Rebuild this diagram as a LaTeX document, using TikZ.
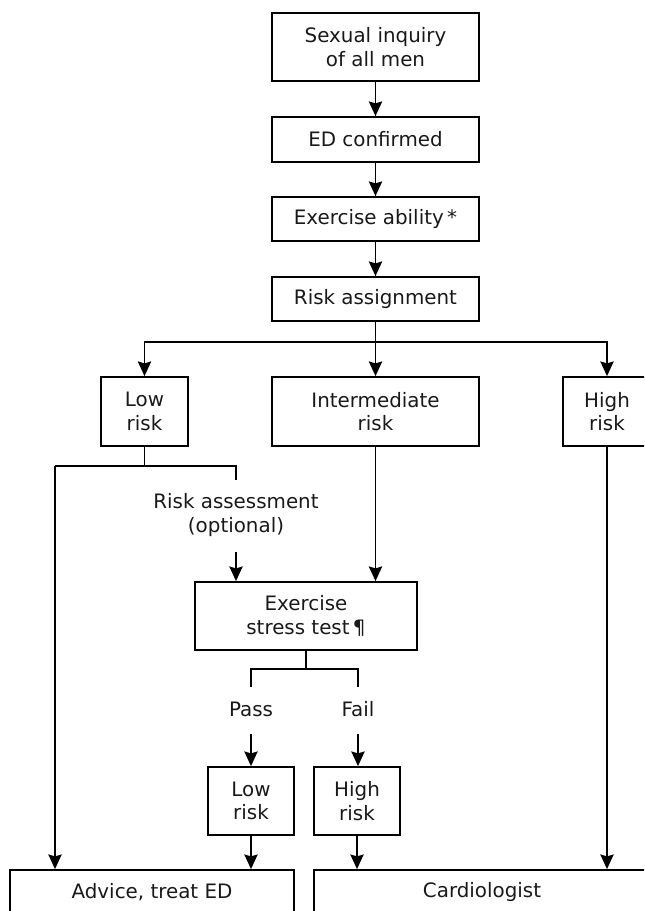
\documentclass[tikz,border=0pt]{standalone}
\usepackage{fontspec}
\setmainfont{DejaVu Sans}
\usetikzlibrary{arrows.meta,calc}
\begin{document}
\begin{tikzpicture}[x=0.75pt,y=-0.75pt,
  line width=1.35pt,
  every node/.style={font=\fontsize{14.9}{17.5}\selectfont, text=black!90},
  box/.style={draw, line width=1.35pt, align=center, inner sep=0pt},
  lbl/.style={align=center, inner sep=0pt},
  arr/.style={-{Stealth[length=11pt,width=10pt,inset=1.5pt]}}]
\useasboundingbox (0,0) rectangle (644,911);
\clip (0,0) rectangle (644,911);
% boxes
\node[box, minimum width={207*0.75pt}, minimum height={68*0.75pt}] (n1) at (375.5,47) {Sexual inquiry\\of all men};
\node[box, minimum width={207*0.75pt}, minimum height={45*0.75pt}] (n2) at (375.5,139.5) {ED confirmed};
\node[box, minimum width={207*0.75pt}, minimum height={44*0.75pt}] (n3) at (375.5,219) {Exercise ability\,*};
\node[box, minimum width={207*0.75pt}, minimum height={44*0.75pt}] (n4) at (375.5,299) {Risk assignment};
\node[box, minimum width={87*0.75pt}, minimum height={69*0.75pt}] (low) at (144.5,411.5) {Low\\risk};
\node[box, minimum width={207*0.75pt}, minimum height={69*0.75pt}] (inter) at (375.5,411.5) {Intermediate\\risk};
\node[box, minimum width={88*0.75pt}, minimum height={69*0.75pt}] (high) at (607,411.5) {High\\risk};
\node[box, minimum width={222*0.75pt}, minimum height={68*0.75pt}] (stress) at (306,616) {Exercise\\stress test\,¶};
\node[box, minimum width={86*0.75pt}, minimum height={68*0.75pt}] (low2) at (251,801) {Low\\risk};
\node[box, minimum width={86*0.75pt}, minimum height={68*0.75pt}] (high2) at (357,801) {High\\risk};
\node[box, minimum width={284*0.75pt}, minimum height={44*0.75pt}] (advice) at (152,892) {Advice, treat ED};
\node[box, minimum width={336*0.75pt}, minimum height={44*0.75pt}] (cardio) at (482,892) {Cardiologist};
% labels
\node[lbl] (ra) at (236,515) {Risk assessment\\(optional)};
\node[lbl] (pass) at (251,709) {Pass};
\node[lbl] (fail) at (358,709) {Fail};
% coordinates
\coordinate (jM) at (375.5,342);
\coordinate (lA) at (55,466);
\coordinate (lB) at (236,466);
\coordinate (lBe) at (236,480);
\coordinate (raA) at (236,552);
\coordinate (sj) at (306,669);
\coordinate (pL) at (251,669);
\coordinate (pR) at (358,669);
\coordinate (pLe) at (251,687);
\coordinate (pRe) at (358,687);
\coordinate (pLa) at (251,734);
\coordinate (pRa) at (358,734);
% connectors
\draw[arr] (n1) -- (n2);
\draw[arr] (n2) -- (n3);
\draw[arr] (n3) -- (n4);
\draw[arr] (n4) -- (inter);
\draw[arr] (jM) -| (low);
\draw[arr] (jM) -| (high);
\draw (low) -- (low |- lA);
\draw (lA) -- (lB) -- (lBe);
\draw[arr] (lA) -- (lA |- advice.north);
\draw[arr] (raA) -- (raA |- stress.north);
\draw[arr] (inter) -- (inter |- stress.north);
\draw (stress) -- (sj);
\draw (pLe) -- (pL) -- (pR) -- (pRe);
\draw[arr] (pLa) -- (low2);
\draw[arr] (pRa) -- (pRa |- high2.north);
\draw[arr] (low2) -- (low2 |- advice.north);
\draw[arr] (high2) -- (high2 |- cardio.north);
\draw[arr] (high) -- (high |- cardio.north);
\end{tikzpicture}
\end{document}
